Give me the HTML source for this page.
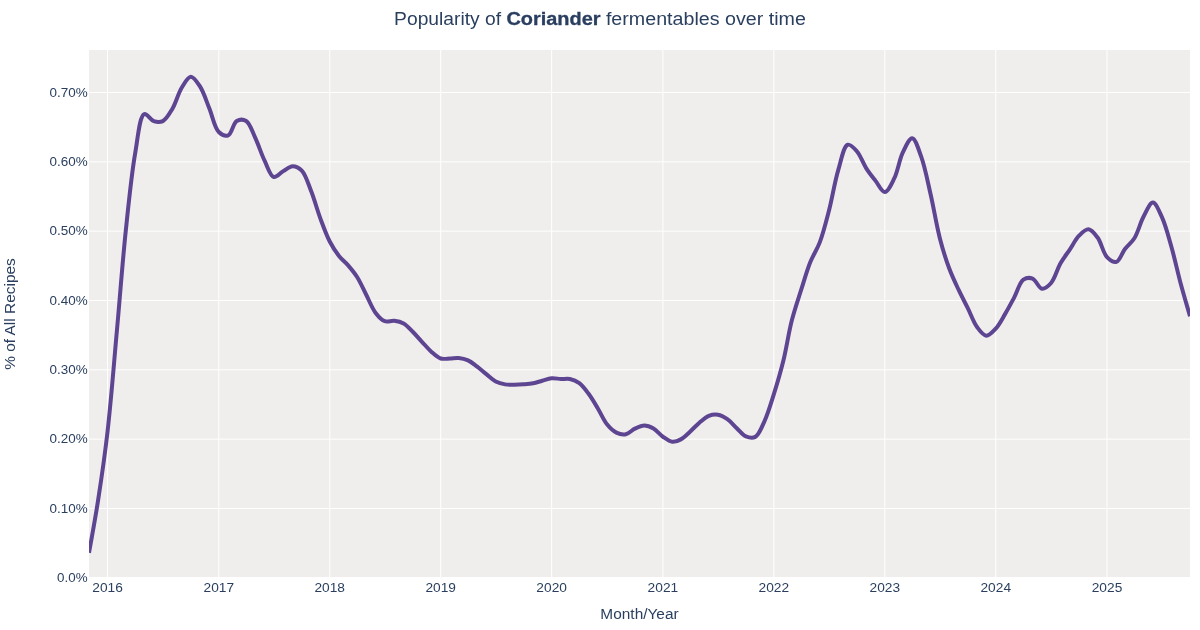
<!DOCTYPE html>
<html><head><meta charset="utf-8"><style>html,body{margin:0;padding:0;background:#fff;width:1200px;height:630px;overflow:hidden}svg{display:block;will-change:transform}</style></head>
<body>
<svg width="1200" height="630" viewBox="0 0 1200 630" font-family='"Liberation Sans", sans-serif' fill="#2a3f5f">
<rect width="1200" height="630" fill="#fff"/>
<rect x="89" y="50" width="1101" height="527" fill="#efeeec"/>
<line x1="107.54" y1="50" x2="107.54" y2="577" stroke="#fff" stroke-width="1"/>
<line x1="218.80" y1="50" x2="218.80" y2="577" stroke="#fff" stroke-width="1"/>
<line x1="329.75" y1="50" x2="329.75" y2="577" stroke="#fff" stroke-width="1"/>
<line x1="440.70" y1="50" x2="440.70" y2="577" stroke="#fff" stroke-width="1"/>
<line x1="551.65" y1="50" x2="551.65" y2="577" stroke="#fff" stroke-width="1"/>
<line x1="662.91" y1="50" x2="662.91" y2="577" stroke="#fff" stroke-width="1"/>
<line x1="773.86" y1="50" x2="773.86" y2="577" stroke="#fff" stroke-width="1"/>
<line x1="884.81" y1="50" x2="884.81" y2="577" stroke="#fff" stroke-width="1"/>
<line x1="995.76" y1="50" x2="995.76" y2="577" stroke="#fff" stroke-width="1"/>
<line x1="1107.01" y1="50" x2="1107.01" y2="577" stroke="#fff" stroke-width="1"/>
<line x1="89" y1="508.47" x2="1190" y2="508.47" stroke="#fff" stroke-width="1"/>
<line x1="89" y1="439.15" x2="1190" y2="439.15" stroke="#fff" stroke-width="1"/>
<line x1="89" y1="369.82" x2="1190" y2="369.82" stroke="#fff" stroke-width="1"/>
<line x1="89" y1="300.50" x2="1190" y2="300.50" stroke="#fff" stroke-width="1"/>
<line x1="89" y1="231.17" x2="1190" y2="231.17" stroke="#fff" stroke-width="1"/>
<line x1="89" y1="161.85" x2="1190" y2="161.85" stroke="#fff" stroke-width="1"/>
<line x1="89" y1="92.52" x2="1190" y2="92.52" stroke="#fff" stroke-width="1"/>
<clipPath id="c"><rect x="89" y="50" width="1101" height="527"/></clipPath>
<path d="M89.00,552.80Q95.21,518.88 98.12,500.15C101.43,478.83 104.65,456.74 107.54,431.61C111.05,401.08 113.91,363.61 116.97,329.92C119.99,296.66 122.52,261.77 125.78,230.76C128.67,203.26 131.42,174.45 135.20,153.05C137.91,137.76 139.50,115.83 144.32,114.08C146.94,113.12 150.44,120.04 153.75,121.14C156.66,122.10 160.10,122.45 162.87,121.09C166.46,119.31 169.41,113.75 172.29,108.93C175.83,103.01 178.16,93.42 181.71,87.70C184.50,83.22 187.72,76.85 190.83,76.77C193.90,76.69 197.46,82.61 200.26,86.93C203.89,92.55 206.34,101.16 209.37,108.52C212.52,116.16 214.52,127.87 218.80,131.99C221.49,134.58 225.49,136.35 228.22,135.36C231.74,134.10 233.13,123.09 236.73,121.03C239.44,119.48 243.43,119.37 246.16,120.99C250.05,123.31 252.37,131.76 255.27,137.92C258.58,144.92 261.35,154.04 264.70,160.93C267.58,166.88 270.21,176.11 273.82,177.03C276.62,177.74 280.07,172.97 283.24,171.14C286.35,169.35 289.54,166.19 292.66,166.15C295.72,166.10 299.12,167.91 301.78,170.65C305.76,174.76 308.27,183.87 311.21,191.30C314.50,199.62 317.12,209.72 320.33,218.33C323.32,226.40 326.27,234.78 329.75,241.48C332.65,247.07 335.89,252.03 339.17,256.14C341.91,259.58 344.87,261.60 347.68,264.83C350.85,268.47 354.19,272.41 357.11,277.01C360.43,282.24 363.15,288.83 366.23,294.79C369.33,300.81 372.07,308.31 375.65,312.95C378.42,316.55 381.44,319.99 384.77,321.20C387.69,322.26 391.08,320.48 394.19,320.85C397.36,321.22 400.68,321.83 403.61,323.45C406.91,325.26 409.74,328.74 412.73,331.73C415.92,334.91 419.03,338.67 422.16,342.04C425.21,345.32 428.07,348.88 431.28,351.68C434.27,354.31 437.38,357.41 440.70,358.48C443.69,359.44 447.06,358.53 450.12,358.44C453.03,358.36 455.75,357.72 458.63,358.00C461.72,358.30 465.06,359.00 468.06,360.35C471.26,361.80 474.16,364.35 477.18,366.62C480.34,369.00 483.47,371.84 486.60,374.35C489.65,376.79 492.49,379.79 495.72,381.48C498.70,383.04 501.97,383.87 505.14,384.40C508.25,384.92 511.45,384.72 514.57,384.70C517.63,384.68 520.62,384.53 523.69,384.30C526.80,384.07 530.02,383.90 533.11,383.30C536.20,382.70 539.16,381.53 542.23,380.70C545.34,379.86 548.49,378.58 551.65,378.30C554.77,378.03 557.98,378.89 561.07,379.01C564.06,379.12 566.97,378.41 569.89,379.02C573.05,379.69 576.41,381.03 579.31,383.16C582.68,385.62 585.51,389.67 588.43,393.57C591.73,397.98 594.79,403.38 597.86,408.45C600.98,413.62 603.53,420.07 606.97,424.30C609.84,427.81 613.01,431.02 616.40,432.65C619.35,434.06 622.81,434.84 625.82,434.25C629.01,433.63 631.78,430.06 634.94,428.61C637.97,427.20 641.25,425.56 644.36,425.57C647.43,425.59 650.57,426.96 653.48,428.61C656.79,430.50 659.64,434.49 662.91,436.74C665.94,438.82 669.20,441.47 672.33,441.80C675.18,442.11 678.08,440.83 680.84,439.36C684.09,437.63 687.19,434.19 690.26,431.43C693.37,428.64 696.23,425.34 699.38,422.71C702.42,420.18 705.52,417.17 708.81,415.88C711.73,414.73 714.93,414.29 717.93,414.76C721.12,415.27 724.37,417.13 727.35,419.17C730.69,421.46 733.64,425.27 736.77,428.18C739.82,431.00 742.56,435.01 745.89,436.39C748.81,437.59 752.57,438.35 755.31,436.87C759.11,434.82 761.64,427.36 764.43,421.29C767.96,413.63 770.84,403.66 773.86,394.11C777.15,383.66 780.40,372.65 783.28,361.01C786.43,348.27 788.57,333.10 791.79,320.60C794.64,309.55 798.04,299.72 801.22,289.73C804.23,280.25 806.98,270.43 810.33,262.09C813.24,254.88 816.91,249.86 819.76,242.41C823.24,233.29 825.97,222.26 828.88,211.05C832.19,198.29 834.71,181.77 838.30,169.84C841.16,160.33 843.64,145.97 847.72,144.73C850.37,143.93 854.09,148.16 856.84,151.26C860.48,155.35 862.97,163.21 866.27,168.34C869.18,172.88 872.27,176.64 875.39,180.63C878.45,184.56 881.75,192.22 884.81,192.09C888.04,191.96 891.50,183.95 894.23,178.46C897.73,171.42 899.30,159.86 902.74,152.68C905.50,146.93 909.20,137.95 912.17,138.14C915.42,138.34 918.56,149.41 921.29,156.92C925.01,167.20 927.71,181.70 930.71,194.78C933.91,208.73 936.43,225.09 939.83,238.19C942.71,249.29 945.83,259.41 949.25,268.56C952.19,276.41 955.47,283.16 958.67,289.96C961.66,296.30 964.74,301.99 967.79,308.13C970.92,314.42 973.59,322.43 977.22,327.27C979.98,330.96 983.20,335.49 986.34,335.65C989.39,335.81 992.87,331.71 995.76,328.61C999.28,324.82 1002.17,318.94 1005.18,313.87C1008.26,308.69 1011.04,303.36 1014.00,297.84C1017.12,292.00 1019.45,282.49 1023.42,279.72C1026.09,277.86 1029.72,277.53 1032.54,278.56C1036.01,279.82 1038.66,288.32 1041.96,288.75C1044.88,289.13 1048.39,286.00 1051.08,282.96C1054.92,278.65 1057.13,269.19 1060.51,263.30C1063.47,258.14 1066.82,253.99 1069.93,249.36C1073.00,244.78 1075.61,239.15 1079.05,235.69C1081.91,232.82 1085.44,229.12 1088.47,229.34C1091.63,229.56 1094.84,233.89 1097.59,237.56C1101.24,242.42 1103.08,253.02 1107.01,257.05C1109.77,259.87 1113.65,262.62 1116.44,261.90C1119.79,261.02 1121.90,253.07 1124.95,249.07C1127.89,245.21 1131.56,242.75 1134.37,238.27C1137.95,232.55 1140.11,223.11 1143.49,216.82C1146.39,211.43 1149.84,202.49 1152.91,202.54C1156.02,202.59 1159.29,211.40 1162.03,217.40C1165.70,225.41 1168.47,236.52 1171.46,247.01C1174.79,258.68 1177.67,272.39 1180.88,284.32Q1183.86,295.39 1190.00,316.20" fill="none" stroke="#5d4592" stroke-width="4" stroke-linejoin="round" clip-path="url(#c)"/>
<text x="87.60" y="582.00" font-size="12.36" text-anchor="end" font-weight="normal" textLength="30.49" lengthAdjust="spacingAndGlyphs">0.0%</text>
<text x="87.60" y="512.67" font-size="12.36" text-anchor="end" font-weight="normal" textLength="38.12" lengthAdjust="spacingAndGlyphs">0.10%</text>
<text x="87.60" y="443.35" font-size="12.36" text-anchor="end" font-weight="normal" textLength="38.12" lengthAdjust="spacingAndGlyphs">0.20%</text>
<text x="87.60" y="374.02" font-size="12.36" text-anchor="end" font-weight="normal" textLength="38.12" lengthAdjust="spacingAndGlyphs">0.30%</text>
<text x="87.60" y="304.70" font-size="12.36" text-anchor="end" font-weight="normal" textLength="38.12" lengthAdjust="spacingAndGlyphs">0.40%</text>
<text x="87.60" y="235.37" font-size="12.36" text-anchor="end" font-weight="normal" textLength="38.12" lengthAdjust="spacingAndGlyphs">0.50%</text>
<text x="87.60" y="166.05" font-size="12.36" text-anchor="end" font-weight="normal" textLength="38.12" lengthAdjust="spacingAndGlyphs">0.60%</text>
<text x="87.60" y="96.72" font-size="12.36" text-anchor="end" font-weight="normal" textLength="38.12" lengthAdjust="spacingAndGlyphs">0.70%</text>
<text x="107.54" y="592.00" font-size="12.36" text-anchor="middle" font-weight="normal" textLength="30.54" lengthAdjust="spacingAndGlyphs">2016</text>
<text x="218.80" y="592.00" font-size="12.36" text-anchor="middle" font-weight="normal" textLength="30.54" lengthAdjust="spacingAndGlyphs">2017</text>
<text x="329.75" y="592.00" font-size="12.36" text-anchor="middle" font-weight="normal" textLength="30.54" lengthAdjust="spacingAndGlyphs">2018</text>
<text x="440.70" y="592.00" font-size="12.36" text-anchor="middle" font-weight="normal" textLength="30.54" lengthAdjust="spacingAndGlyphs">2019</text>
<text x="551.65" y="592.00" font-size="12.36" text-anchor="middle" font-weight="normal" textLength="30.54" lengthAdjust="spacingAndGlyphs">2020</text>
<text x="662.91" y="592.00" font-size="12.36" text-anchor="middle" font-weight="normal" textLength="30.54" lengthAdjust="spacingAndGlyphs">2021</text>
<text x="773.86" y="592.00" font-size="12.36" text-anchor="middle" font-weight="normal" textLength="30.54" lengthAdjust="spacingAndGlyphs">2022</text>
<text x="884.81" y="592.00" font-size="12.36" text-anchor="middle" font-weight="normal" textLength="30.54" lengthAdjust="spacingAndGlyphs">2023</text>
<text x="995.76" y="592.00" font-size="12.36" text-anchor="middle" font-weight="normal" textLength="30.54" lengthAdjust="spacingAndGlyphs">2024</text>
<text x="1107.01" y="592.00" font-size="12.36" text-anchor="middle" font-weight="normal" textLength="30.54" lengthAdjust="spacingAndGlyphs">2025</text>
<text x="639.50" y="618.80" font-size="14.42" text-anchor="middle" font-weight="normal" textLength="78.24" lengthAdjust="spacingAndGlyphs">Month/Year</text>
<text x="0.00" y="0.00" font-size="14.42" text-anchor="middle" font-weight="normal" textLength="111.60" lengthAdjust="spacingAndGlyphs" transform="translate(15,314) rotate(-90)">% of All Recipes</text>
<text x="394.11" y="24.70" font-size="17.51" text-anchor="start" font-weight="normal" textLength="106.98" lengthAdjust="spacingAndGlyphs">Popularity of</text>
<text x="506.49" y="24.70" font-size="17.51" text-anchor="start" font-weight="bold" textLength="94.02" lengthAdjust="spacingAndGlyphs" stroke="#2a3f5f" stroke-width="0.3">Coriander</text>
<text x="605.92" y="24.70" font-size="17.51" text-anchor="start" font-weight="normal" textLength="199.97" lengthAdjust="spacingAndGlyphs">fermentables over time</text>
</svg>
</body></html>
